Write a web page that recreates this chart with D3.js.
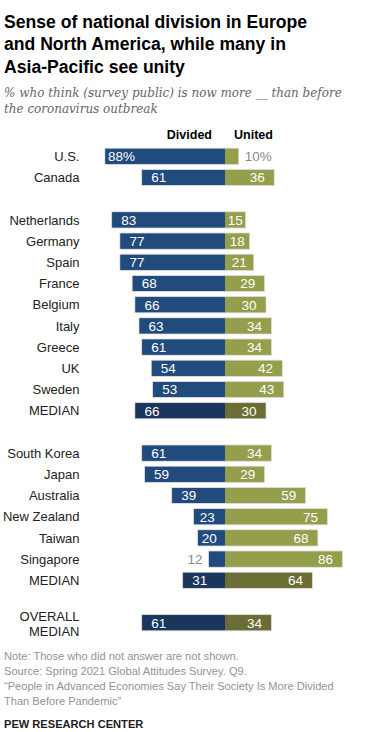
<!DOCTYPE html>
<html><head><meta charset="utf-8">
<script src="https://cdn.jsdelivr.net/npm/d3@7"></script>
<style>
body{margin:0;background:#fff;}
svg{display:block;}
</style></head>
<body>
<svg id="c" width="383" height="732"></svg>
<script>
const categories = ["U.S.","Canada","","Netherlands","Germany","Spain","France","Belgium","Italy","Greece","UK","Sweden","MEDIAN","","South Korea","Japan","Australia","New Zealand","Taiwan","Singapore","MEDIAN","","OVERALL|MEDIAN"];
const divided = [88,61,null,83,77,77,68,66,63,61,54,53,66,null,61,59,39,23,20,12,31,null,61];
const united  = [10,36,null,15,18,21,29,30,34,34,42,43,30,null,34,29,59,75,68,86,64,null,34];
const isMedian = [0,0,0,0,0,0,0,0,0,0,0,0,1,0,0,0,0,0,0,0,1,0,1];
const legendLabels = ["Divided","United"];
const titleLines = ["Sense of national division in Europe","and North America, while many in","Asia-Pacific see unity"];
const subtitleLines = ["% who think (survey public) is now more __ than before","the coronavirus outbreak"];
const noteLines = ["Note: Those who did not answer are not shown.","Source: Spring 2021 Global Attitudes Survey. Q9.","\u201cPeople in Advanced Economies Say Their Society Is More Divided","Than Before Pandemic\u201d"];
const source = "PEW RESEARCH CENTER";

const svg = d3.select("#c");
const F = "'Liberation Sans', Arial, sans-serif";
const C = {blue:"#214a7d", blueM:"#1b365c", olive:"#959e4a", oliveM:"#6c6c35", stroke:"#d9d9d9"};

// title
svg.append("g").selectAll("text").data(titleLines).join("text")
  .attr("x",4).attr("y",(d,i)=>27.5+i*22.5)
  .attr("font-family",F).attr("font-weight","bold").attr("font-size",17.6)
  .attr("fill","#000").text(d=>d);
const sub = svg.append("g").selectAll("text").data(subtitleLines).join("text")
  .attr("x",4).attr("y",(d,i)=>96.5+i*16)
  .attr("font-family","'DejaVu Serif', Georgia, serif").attr("font-style","italic").attr("font-size",12)
  .attr("fill","#666").text(d=>d);
// fit first subtitle line to reference width
const w0 = sub.nodes()[0].getComputedTextLength();
sub.attr("font-size", 12*338/w0);

const x = d3.scaleLinear().domain([0,100]).range([225, 225+136.4]);
const xl = d3.scaleLinear().domain([0,100]).range([225, 225-136.4]);
const idx = d3.range(categories.length);
const y = d3.scaleBand().domain(idx).range([145.7, 145.7+23*21.2]).paddingInner(0.245).paddingOuter(0.1225);
const bw = y.bandwidth();

// legend headers
svg.append("text").attr("x",212).attr("y",139).attr("text-anchor","end")
  .attr("font-family",F).attr("font-weight","bold").attr("font-size",12.5).attr("fill","#000").text(legendLabels[0]);
svg.append("text").attr("x",234).attr("y",139).attr("text-anchor","start")
  .attr("font-family",F).attr("font-weight","bold").attr("font-size",12.5).attr("fill","#000").text(legendLabels[1]);

const rows = idx.filter(i=>divided[i]!==null);

// category labels
const lab = svg.append("g");
rows.forEach(i=>{
  const parts = categories[i].split("|");
  const cy = y(i)+bw/2;
  const t = lab.append("text").attr("x",79.5).attr("text-anchor","end")
    .attr("font-family",F).attr("font-size",13).attr("fill","#222");
  if(parts.length===1){
    t.attr("y",cy+4.6).text(parts[0]);
  } else {
    parts.forEach((p,k)=>t.append("tspan").attr("x",79.5).attr("y",cy-1.5+k*15).text(p));
  }
});

const g = svg.append("g");
g.selectAll("rect.d").data(rows).join("rect").attr("class","d")
  .attr("x",i=>xl(divided[i])).attr("y",i=>y(i)).attr("width",i=>xl(0)-xl(divided[i])).attr("height",bw)
  .attr("fill",i=>isMedian[i]?C.blueM:C.blue).attr("stroke",C.stroke).attr("stroke-width",1);
g.selectAll("rect.u").data(rows).join("rect").attr("class","u")
  .attr("x",x(0)).attr("y",i=>y(i)).attr("width",i=>x(united[i])-x(0)).attr("height",bw)
  .attr("fill",i=>isMedian[i]?C.oliveM:C.olive).attr("stroke",C.stroke).attr("stroke-width",1);
g.selectAll("rect.d2").data(rows).join("rect")
  .attr("x",i=>xl(divided[i])+0.5).attr("y",i=>y(i)+0.5).attr("width",i=>xl(0)-xl(divided[i])).attr("height",bw-1)
  .attr("fill",i=>isMedian[i]?C.blueM:C.blue);
g.selectAll("rect.u2").data(rows).join("rect")
  .attr("x",x(0)).attr("y",i=>y(i)+0.5).attr("width",i=>x(united[i])-x(0)-0.5).attr("height",bw-1)
  .attr("fill",i=>isMedian[i]?C.oliveM:C.olive);

// value labels
const vl = svg.append("g").attr("font-family",F).attr("font-size",13.5);
rows.forEach((i,k)=>{
  const cy = y(i)+bw/2+4.8;
  const dv = divided[i], uv = united[i];
  const dt = k===0 ? dv+"%" : ""+dv;
  const ut = k===0 ? uv+"%" : ""+uv;
  const bl = xl(dv), wD = xl(0)-bl;
  const tD = vl.append("text").attr("y",cy).text(dt);
  const twD = tD.node().getComputedTextLength();
  if(wD < twD+6){
    tD.attr("x",bl-6).attr("text-anchor","end").attr("fill","#8a8a8a");
  } else {
    const pad = k===0 ? 3 : Math.min(9.5,(wD-twD)/2-2);
    tD.attr("x",bl+pad).attr("text-anchor","start").attr("fill","#fff");
  }
  const br = x(uv), wU = br-x(0);
  const tU = vl.append("text").attr("y",cy).text(ut);
  const twU = tU.node().getComputedTextLength();
  if(wU < twU+4){
    tU.attr("x",br+6).attr("text-anchor","start").attr("fill","#8a8a8a");
  } else {
    const pad = Math.min(9.3,(wU-twU)/2);
    tU.attr("x",br-pad).attr("text-anchor","end").attr("fill","#fff");
  }
});

// notes
svg.append("g").selectAll("text").data(noteLines).join("text")
  .attr("x",4).attr("y",(d,i)=>659.5+i*15)
  .attr("font-family",F).attr("font-size",11.1).attr("fill","#939393").text(d=>d);
svg.append("text").attr("x",4).attr("y",727.5)
  .attr("font-family",F).attr("font-weight","bold").attr("font-size",11.1).attr("fill","#222").text(source);
</script>
</body></html>
